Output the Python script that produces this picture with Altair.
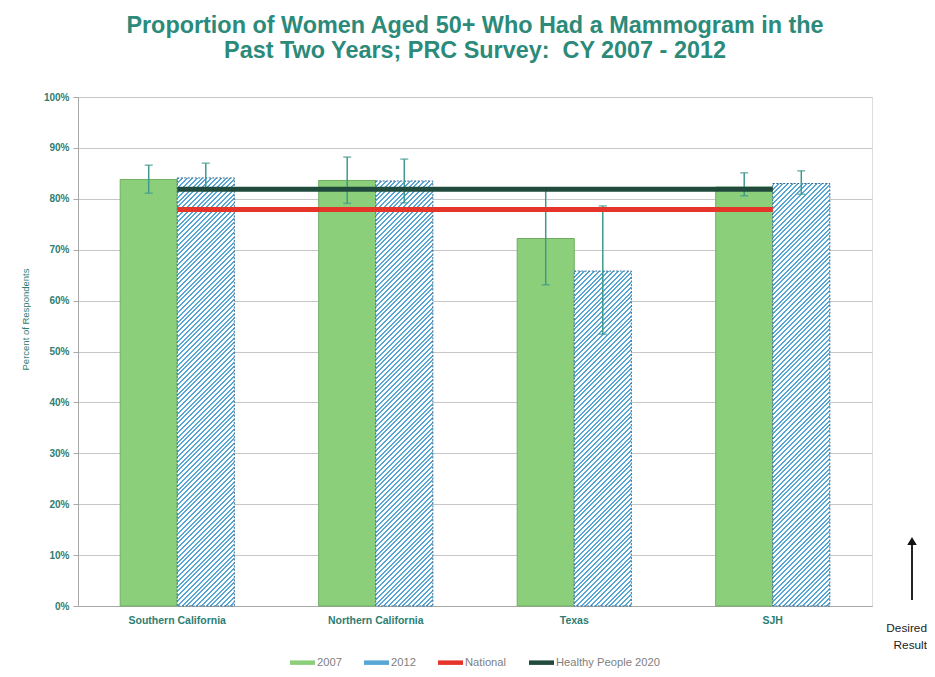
import altair as alt
import pandas as pd

# ---------------- data ----------------
categories = ["Southern California", "Northern California", "Texas", "SJH"]
pct_2007 = [83.8, 83.6, 72.2, 82.3]
low_2007 = [81.1, 79.1, 63.1, 80.6]
high_2007 = [86.6, 88.2, 81.9, 85.1]
pct_2012 = [84.1, 83.5, 65.8, 83.0]
low_2012 = [81.6, 79.2, 53.4, 80.9]
high_2012 = [87.0, 87.8, 78.6, 85.5]
national = [77.9, 77.9, 77.9, 77.9]
healthy_people_2020 = [81.9, 81.9, 81.9, 81.9]
series_names = ["2007", "2012", "National", "Healthy People 2020"]
y_ticks = [0, 10, 20, 30, 40, 50, 60, 70, 80, 90, 100]
title_lines = ["Proportion of Women Aged 50+ Who Had a Mammogram in the",
               "Past Two Years; PRC Survey:\u00a0 CY 2007 - 2012"]

# ---------------- style ----------------
FONT = "Liberation Sans"
W, H = 794, 509
PAD = 0.425
GREEN = "#8ccf7b"
BLUE = "#56a6d6"
RED = "#e5352b"
DARK = "#1f4a3c"
ERR = "#3f9a8c"
TEAL = "#2d7e72"
bar_w = W / len(categories) * (1 - PAD) / 2
STRIPE = 4.8
BLUE_FRAC = 0.42

bars = pd.DataFrame({
    "category": categories * 2,
    "series": ["2007"] * 4 + ["2012"] * 4,
    "value": pct_2007 + pct_2012,
    "low": low_2007 + low_2012,
    "high": high_2007 + high_2012,
})
lines = pd.DataFrame({
    "category": categories * 2,
    "series": ["National"] * 4 + ["Healthy People 2020"] * 4,
    "value": national + healthy_people_2020,
})

color_scale = alt.Scale(domain=series_names, range=[GREEN, BLUE, RED, DARK])
legend = alt.Legend(
    title=None, orient="none", legendX=212, legendY=553, direction="horizontal",
    symbolType="M-1,-0.18H1V0.18H-1Z", symbolSize=625, symbolStrokeWidth=0,
    labelFont=FONT, labelFontSize=11.2, labelColor="#808080", labelOffset=2,
    columnPadding=22,
)

x_enc = alt.X("category:N", sort=categories,
              scale=alt.Scale(paddingInner=PAD, paddingOuter=PAD / 2),
              axis=alt.Axis(title=None, labelAngle=0, ticks=False, labelPadding=9,
                            labelFont=FONT, labelFontSize=10.5, labelFontWeight="bold",
                            labelColor=TEAL, domainColor="#a8a8a8", grid=False))
xo_enc = alt.XOffset("series:N", sort=["2007", "2012"],
                     scale=alt.Scale(domain=["2007", "2012"], paddingInner=0, paddingOuter=0))
YT = "Percent of Respondents"
y_scale = alt.Scale(domain=[0, 100], nice=False)
y_enc = alt.Y("value:Q", scale=y_scale, title=YT,
              axis=alt.Axis(values=y_ticks, labelExpr="datum.value + '%'",
                            labelFont=FONT, labelFontSize=10, labelFontWeight="bold",
                            labelColor=TEAL, labelPadding=4, tickSize=5, tickColor="#a8a8a8",
                            domainColor="#a8a8a8", gridColor="#c6c6c6",
                            titleFont=FONT, titleFontSize=9.5, titleFontWeight="normal",
                            titleColor=TEAL, titleX=-48, titleY=222, titleAngle=-90))

bars_2007 = alt.Chart(bars).transform_filter("datum.series == '2007'").mark_bar(
    stroke="#6fae62", strokeWidth=1
).encode(x=x_enc, xOffset=xo_enc, y=y_enc,
         color=alt.Color("series:N", scale=color_scale, legend=legend))

layers = [bars_2007]
for i, cat in enumerate(categories):
    h = pct_2012[i] / 100 * H
    L = bar_w + h
    k = L / (bar_w ** 2 + h ** 2)
    stops = []
    n = int(L / STRIPE) + 2
    for j in range(n):
        o0 = min(1.0, j * STRIPE / L)
        o1 = min(1.0, (j + BLUE_FRAC) * STRIPE / L)
        o2 = min(1.0, (j + 1) * STRIPE / L)
        stops += [{"offset": o0, "color": BLUE}, {"offset": o1, "color": BLUE},
                  {"offset": o1, "color": "#ffffff"}, {"offset": o2, "color": "#ffffff"}]
    grad = {"gradient": "linear", "x1": 0, "y1": 0, "x2": k * bar_w, "y2": k * h, "stops": stops}
    layers.append(
        alt.Chart(bars).transform_filter(
            f"datum.series == '2012' && datum.category == '{cat}'"
        ).mark_bar(fill=grad, stroke="#3a6a92", strokeWidth=1, strokeDash=[2, 1.5])
        .encode(x=x_enc, xOffset=xo_enc, y=y_enc)
    )

err_rule = alt.Chart(bars).mark_rule(color=ERR, strokeWidth=1.5).encode(
    x=x_enc, xOffset=xo_enc, y=alt.Y("low:Q", scale=y_scale, title=YT), y2="high:Q")
cap_lo = alt.Chart(bars).mark_tick(color=ERR, size=8, thickness=1.5).encode(
    x=x_enc, xOffset=xo_enc, y=alt.Y("low:Q", scale=y_scale, title=YT))
cap_hi = alt.Chart(bars).mark_tick(color=ERR, size=8, thickness=1.5).encode(
    x=x_enc, xOffset=xo_enc, y=alt.Y("high:Q", scale=y_scale, title=YT))

line_layer = alt.Chart(lines).mark_line(strokeWidth=5).encode(
    x=x_enc, y=alt.Y("value:Q", scale=y_scale, title=YT),
    color=alt.Color("series:N", scale=color_scale, legend=legend))

anno = pd.DataFrame({"label": ["Desired\nResult"]})
arrow_shaft = alt.Chart(anno).mark_rule(color="#222222", strokeWidth=2).encode(
    x=alt.value(834), y=alt.value(446), y2=alt.value(503))
arrow_head = alt.Chart(anno).mark_point(shape="triangle-up", filled=True, color="#111111",
                                        size=90, opacity=1).encode(
    x=alt.value(834), y=alt.value(444))
arrow_text = alt.Chart(anno).mark_text(font=FONT, fontSize=11.8, color="#222222",
                                       lineBreak="\n", baseline="top", align="right",
                                       lineHeight=17).encode(
    x=alt.value(849), y=alt.value(526), text="label:N")

layers += [err_rule, cap_lo, cap_hi, line_layer, arrow_shaft, arrow_head, arrow_text]

chart = alt.layer(*layers).properties(
    width=W, height=H,
    title=alt.TitleParams(title_lines, font=FONT, fontSize=23.4, fontWeight="bold",
                          color="#2b8a7a", anchor="middle", offset=29, lineHeight=25),
    autosize=alt.AutoSizeParams(type="none"),
    padding={"left": 70, "top": 89, "right": 55, "bottom": 63},
).configure_view(stroke=None).configure(background="white")

chart.save("out.html", embed_options={"renderer": "svg", "actions": False})
